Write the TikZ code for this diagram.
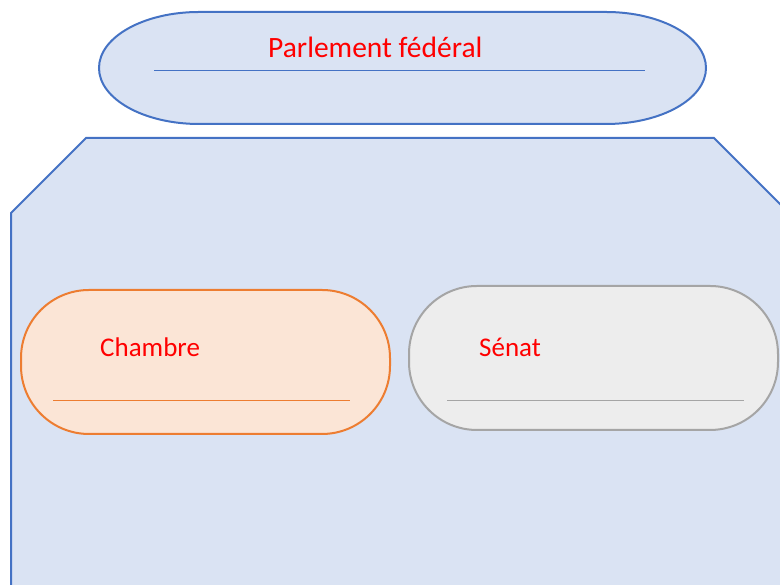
\documentclass[tikz,border=0pt]{standalone}
\usepackage{fontspec}
\setmainfont{Carlito}
\definecolor{bleu}{HTML}{4472C4}
\definecolor{bleuclair}{HTML}{DAE3F3}
\definecolor{orange}{HTML}{ED7D31}
\definecolor{orangeclair}{HTML}{FBE5D6}
\definecolor{gris}{HTML}{A5A5A5}
\definecolor{grisclair}{HTML}{EDEDED}
\definecolor{rouge}{HTML}{FF0000}
\begin{document}
\begin{tikzpicture}[x=1pt,y=1pt,
	titre/.style={text=rouge,inner sep=0pt,anchor=base west,font=\fontsize{27}{32}\selectfont},
	bord/.style={line width=2pt}]
				\useasboundingbox (0,0) rectangle (780,585);
				\clip (0,0) rectangle (780,585);
				% parlement
				\draw[bord,bleu,fill=bleuclair] (199,573)--(606,573) arc[start angle=90,end angle=-90,x radius=100,y radius=56]
					--(199,461) arc[start angle=270,end angle=90,x radius=100,y radius=56]--cycle;
				\draw[bleu,line width=1pt] (154,514)--(645,514);
				\node[titre,font=\fontsize{29.5}{35}\selectfont] (parlement) at (268,527) {Parlement fédéral};
				% enceinte
				\draw[bord,bleu,fill=bleuclair] (11,-5)--(11,372)--(86,447)--(714,447)--(800,361)--(800,-5)--cycle;
				% chambre
				\draw[bord,orange,fill=orangeclair,rounded corners=68pt] (21,151) rectangle (390,295);
				\draw[orange,line width=1pt] (53,184)--(350,184);
				\node[titre] (chambre) at (100,228) {Chambre};
				% senat
				\draw[bord,gris,fill=grisclair,rounded corners=68pt] (409,155) rectangle (778,299);
				\draw[gris,line width=1pt] (447,184)--(744,184);
				\node[titre] (senat) at (479,228) {Sénat};
				\end{tikzpicture}
\end{document}
